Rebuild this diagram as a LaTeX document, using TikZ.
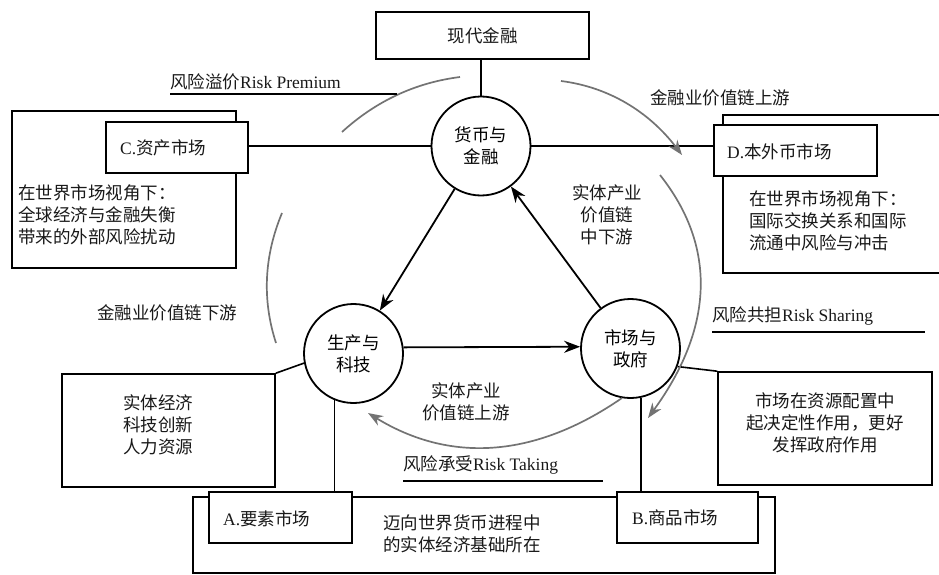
\documentclass[tikz,border=0pt]{standalone}
\usepackage{fontspec}
\setmainfont{Noto Sans CJK SC}
\newfontfamily\lat{Liberation Serif}
\usetikzlibrary{arrows.meta}
\newcommand\dfs{\fontsize{17.5}{22}\selectfont}
\begin{document}
\begin{tikzpicture}[x=1pt,y=-1pt,
  box/.style={draw, line width=1.6pt, fill=white, inner sep=0pt},
  circ/.style={draw, circle, line width=1.8pt, minimum size=99pt, inner sep=0pt, align=center, font=\dfs, fill=white},
  txt/.style={font=\dfs, align=center, inner sep=0pt, text=black!90},
  conn/.style={line width=1.6pt},
  arr/.style={line width=1.8pt, -{Stealth[length=16pt,width=12pt]}},
  garr/.style={line width=1.7pt, draw=black!55, -{Stealth[length=15pt,width=11pt]}},
  garc/.style={line width=1.7pt, draw=black!55}]
\useasboundingbox (0,0) rectangle (939,575);
% boxes
\node[box, minimum width=213pt, minimum height=47pt] (top) at (482.5,35.5) {};
\node[txt] (toptxt) at (482.5,36) {现代金融};
\node[box, minimum width=224pt, minimum height=157pt] (Cout) at (124,189.5) {};
\node[box, minimum width=142pt, minimum height=51pt] (Cin) at (177,147.5) {};
\node[txt, anchor=west] (Ctxt) at (120,148) {{\lat C.}资产市场};
\node[txt, anchor=west, align=left] (Cdesc) at (18,215) {在世界市场视角下：\\全球经济与金融失衡\\带来的外部风险扰动};
\node[box, minimum width=222pt, minimum height=158pt] (Dout) at (834,194) {};
\node[box, minimum width=163pt, minimum height=51pt] (Din) at (795.5,150.5) {};
\node[txt, anchor=west] (Dtxt) at (727,152) {{\lat D.}本外币市场};
\node[txt, anchor=west, align=left] (Ddesc) at (749,221) {在世界市场视角下：\\国际交换关系和国际\\流通中风险与冲击};
\node[box, minimum width=213pt, minimum height=113pt] (Lbox) at (168.5,430.5) {};
\node[txt] (Ltxt) at (158,425) {实体经济\\科技创新\\人力资源};
\node[box, minimum width=214pt, minimum height=113pt] (Rbox) at (825,428.5) {};
\node[txt] (Rtxt) at (825,423) {市场在资源配置中\\起决定性作用，更好\\发挥政府作用};
\node[box, minimum width=582pt, minimum height=76pt] (Bot) at (484,535) {};
\node[txt] (Bottxt) at (462,534) {迈向世界货币进程中\\的实体经济基础所在};
\node[box, minimum width=143pt, minimum height=51pt] (A) at (280.5,517.5) {};
\node[txt, anchor=west] (Atxt) at (223,519) {{\lat A.}要素市场};
\node[box, minimum width=141pt, minimum height=51pt] (B) at (687.5,517.5) {};
\node[txt, anchor=west] (Btxt) at (632,518) {{\lat B.}商品市场};
% circles
\node[circ] (M) at (481,146) {货币与\\金融};
\node[circ] (P) at (353.5,353.5) {生产与\\科技};
\node[circ] (G) at (630.5,348.5) {市场与\\政府};
% connectors
\draw[conn] (M.north |- top.south) -- (M.north);
\draw[conn] (Cin.east |- M.west) -- (M.west);
\draw[conn] (M.east) -- (Din.west |- M.east);
\draw[conn] (Lbox.north east) -- (P.191);
\draw[conn] (P.248) -- (P.248 |- A.north);
\draw[conn] (G.282) -- (G.282 |- B.north);
\draw[conn] (G.339) -- (Rbox.north west);
\draw[arr] (M) -- (P);
\draw[arr] (G) -- (M);
\draw[arr] (P.7) -- (G.178);
% gray arcs
\draw[garc] (342,132) .. controls (376,101) and (415.3,82.7) .. (460,77);
\draw[garr] (561,81) .. controls (608.7,87) and (649,111.7) .. (682,155);
\draw[garr] (660,175) .. controls (717.3,247.3) and (713.3,328.3) .. (648,418);
\draw[garr] (622,398) .. controls (534.7,458.3) and (450,463.3) .. (368,413);
\draw[garc] (282,213) .. controls (264,256.3) and (262,299.7) .. (276,343);
% labels
\node[txt, anchor=west] (rp) at (170,82) {风险溢价{\lat Risk Premium}};
\coordinate (rp1) at (170,94); \coordinate (rp2) at (397,94);
\draw[conn] (rp1) -- (rp2);
\node[txt] (up) at (720,98) {金融业价值链上游};
\node[txt] (down) at (167,313) {金融业价值链下游};
\node[txt] (mid) at (607,215) {实体产业\\价值链\\中下游};
\node[txt] (upr) at (466,402) {实体产业\\价值链上游};
\node[txt, anchor=west] (rs) at (712,316) {风险共担{\lat Risk Sharing}};
\coordinate (rs1) at (712,332); \coordinate (rs2) at (925,332);
\draw[conn] (rs1) -- (rs2);
\node[txt, anchor=west] (rt) at (403,465) {风险承受{\lat Risk Taking}};
\coordinate (rt1) at (403,481); \coordinate (rt2) at (603,481);
\draw[conn] (rt1) -- (rt2);
\end{tikzpicture}
\end{document}
